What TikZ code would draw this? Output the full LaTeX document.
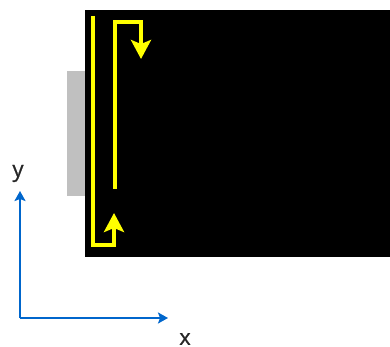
\documentclass[tikz,border=0pt]{standalone}
\usepackage{fontspec}
\setmainfont{Open Sans}
\usetikzlibrary{arrows.meta}
\definecolor{axisblue}{RGB}{0,102,204}
\definecolor{pathyellow}{RGB}{255,255,0}
\definecolor{slabgray}{RGB}{192,192,192}
\definecolor{labelgray}{RGB}{38,38,38}
\tikzset{
  scanline/.style={draw=pathyellow, line width=4.4pt, line cap=butt, line join=miter},
  scanarrow/.style={scanline, -{Stealth[width=20pt,length=19pt,inset=4pt]}},
  axisline/.style={draw=axisblue, line width=2.2pt, -{Stealth[width=11pt,length=10pt,inset=2pt]}},
  axislabel/.style={font=\fontsize{22}{22}\selectfont\addfontfeatures{FakeBold=0.8},
    text=labelgray, inner sep=0pt}
}
\begin{document}
\begin{tikzpicture}[x=1pt,y=-1pt]
  \useasboundingbox (0,0) rectangle (390,347);
  % sample and its holder
  \fill[slabgray] (67,71) rectangle (85,196);
  \fill[black] (85,10) rectangle (390,257);
  % scan path: one pass down, back up, then the next pass
  \coordinate (p1) at (93,16);
  \coordinate (p2) at (93,245);
  \coordinate (p3) at (114,245);
  \coordinate (p4) at (114,213);
  \coordinate (q1) at (115,189);
  \coordinate (q2) at (115,22);
  \coordinate (q3) at (141,22);
  \coordinate (q4) at (141,59);
  \draw[scanarrow] (p1) -- (p2) -- (p3) -- (p4);
  \draw[scanarrow] (q1) -- (q2) -- (q3) -- (q4);
  % axes
  \coordinate (o) at (20,318);
  \coordinate (xe) at (168,318);
  \coordinate (ye) at (20,191);
  \draw[axisline] (o) -- (xe);
  \draw[axisline] (o) -- (ye);
  \node[axislabel] (xl) at (185,339) {x};
  \node[axislabel] (yl) at (18,173.5) {y};
\end{tikzpicture}
\end{document}
